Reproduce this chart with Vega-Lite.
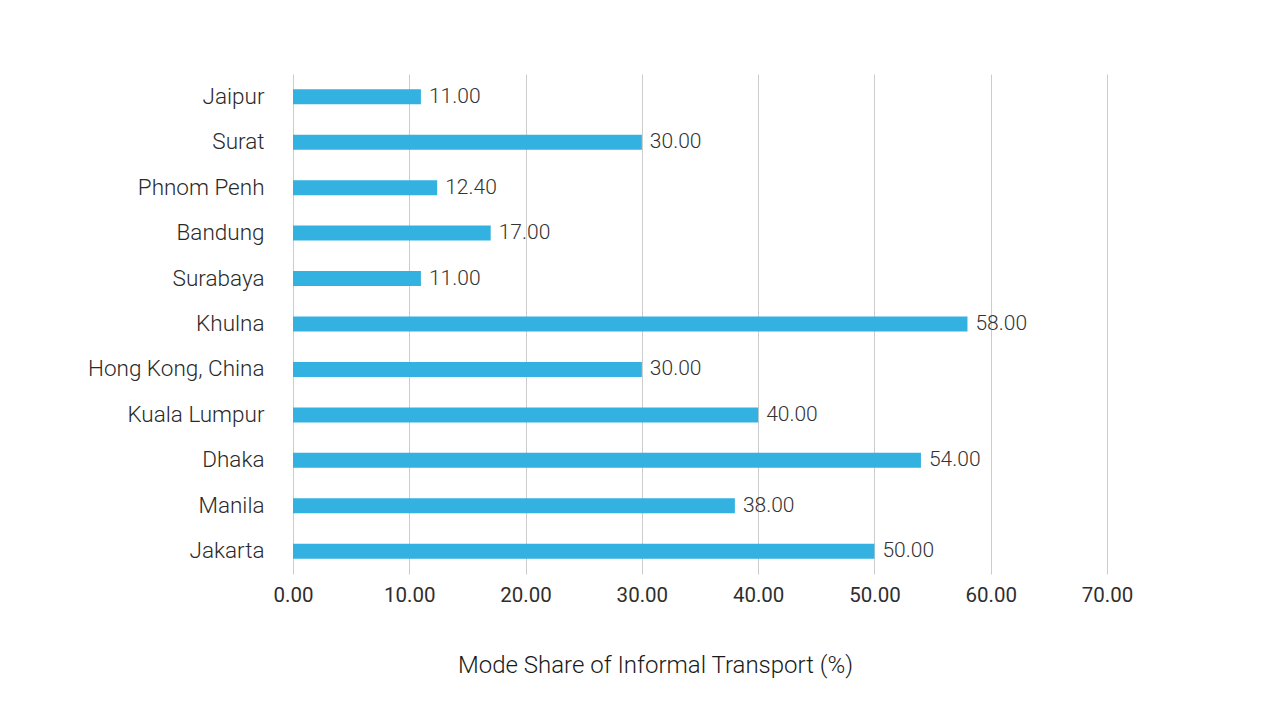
{
  "$schema": "https://vega.github.io/schema/vega-lite/v6.json",
  "width": 814,
  "height": 500,
  "autosize": {"type": "none"},
  "padding": {"left": 293, "top": 74, "right": 177, "bottom": 132},
  "background": "white",
  "data": {
    "values": [
      {"city": "Jaipur", "share": 11},
      {"city": "Surat", "share": 30},
      {"city": "Phnom Penh", "share": 12.4},
      {"city": "Bandung", "share": 17},
      {"city": "Surabaya", "share": 11},
      {"city": "Khulna", "share": 58},
      {"city": "Hong Kong, China", "share": 30},
      {"city": "Kuala Lumpur", "share": 40},
      {"city": "Dhaka", "share": 54},
      {"city": "Manila", "share": 38},
      {"city": "Jakarta", "share": 50}
    ]
  },
  "encoding": {
    "y": {
      "field": "city",
      "type": "nominal",
      "sort": null,
      "axis": {
        "title": null,
        "domain": false,
        "ticks": false,
        "grid": false,
        "labelPadding": 29,
        "labelFontSize": 22.5,
        "labelFont": "Roboto",
        "labelFontWeight": 300,
        "labelColor": "#2a2a2a"
      }
    },
    "x": {
      "field": "share",
      "type": "quantitative",
      "scale": {"domain": [0, 70], "nice": false},
      "axis": {
        "values": [0, 10, 20, 30, 40, 50, 60, 70],
        "format": ".2f",
        "title": "Mode Share of Informal Transport (%)",
        "titleFont": "Roboto",
        "titleFontSize": 24,
        "titleFontWeight": 300,
        "titleColor": "#1a1a1a",
        "titleX": 362,
        "titleY": 91,
        "titleAlign": "center",
        "titleBaseline": "middle",
        "domain": false,
        "ticks": false,
        "grid": true,
        "gridColor": "#cccccc",
        "gridWidth": 1,
        "labelFlush": false,
        "labelPadding": 11,
        "labelFontSize": 20.5,
        "labelFont": "Roboto",
        "labelFontWeight": "normal",
        "labelColor": "#2e2e2e"
      }
    }
  },
  "layer": [
    {
      "mark": {"type": "bar", "size": 15, "color": "#33b1e1"}
    },
    {
      "mark": {
        "type": "text",
        "align": "left",
        "baseline": "middle",
        "dx": 8,
        "font": "Roboto",
        "fontSize": 21,
        "fontWeight": 300,
        "color": "#333333"
      },
      "encoding": {
        "text": {"field": "share", "type": "quantitative", "format": ".2f"}
      }
    }
  ],
  "config": {
    "view": {"stroke": null}
  }
}
